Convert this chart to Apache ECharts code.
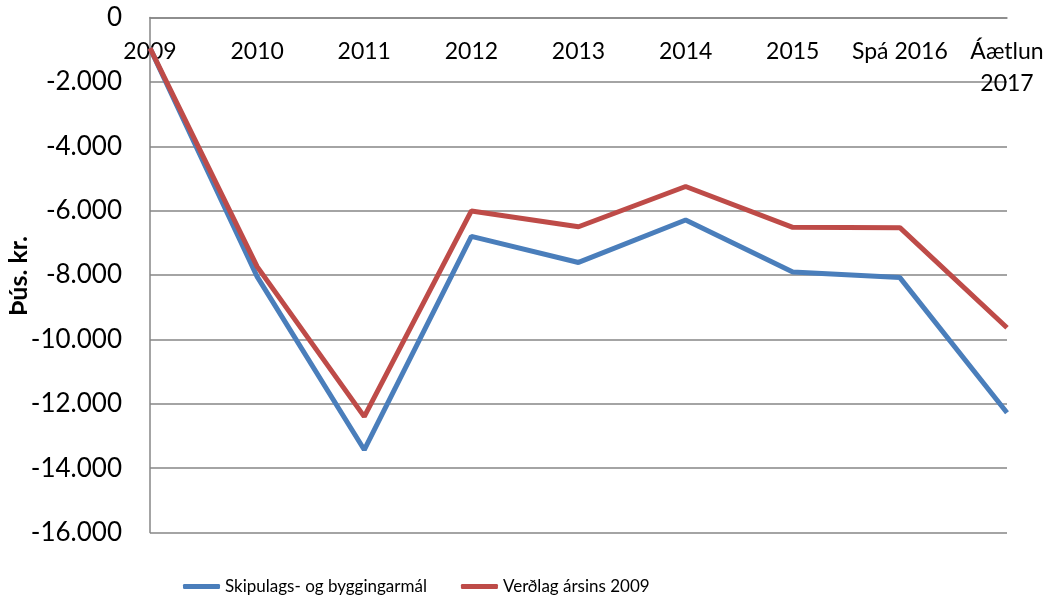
<!DOCTYPE html>
<html>
<head>
<meta charset="utf-8">
<script src="https://cdn.jsdelivr.net/npm/echarts@6/dist/echarts.min.js"></script>
<style>
html,body{margin:0;padding:0;background:#fff;}
#chart{width:1051px;height:602px;}
</style>
</head>
<body>
<div id="chart"></div>
<script>
const categories = ['2009', '2010', '2011', '2012', '2013', '2014', '2015', 'Spá 2016', 'Áætlun\n2017'];
const seriesNames = ['Skipulags- og byggingarmál', 'Verðlag ársins 2009'];
const skipulag = [-950, -8050, -13430, -6800, -7610, -6290, -7910, -8080, -12280];
const verdlag = [-950, -7740, -12400, -6010, -6500, -5250, -6520, -6530, -9640];
const yTicks = { min: -16000, max: 0, interval: 2000 };
const yName = 'Þús. kr.';

const FONT = 'Lato';
const chart = echarts.init(document.getElementById('chart'), null, { renderer: 'canvas' });
chart.setOption({
  animation: false,
  backgroundColor: '#ffffff',
  grid: { left: 150, right: 44, top: 17.5, bottom: 69.5, containLabel: false, outerBoundsMode: 'none' },
  graphic: [{
    type: 'text',
    x: 19, y: 276,
    rotation: Math.PI / 2,
    style: {
      text: yName, fontFamily: FONT, fontSize: 25, fontWeight: 'bold', fill: '#000',
      align: 'center', verticalAlign: 'middle'
    }
  }],
  legend: {
    left: 178, top: 573,
    itemWidth: 37, itemHeight: 5, itemGap: 34,
    icon: 'roundRect',
    textStyle: { fontFamily: FONT, fontSize: 17, color: '#000' },
    data: seriesNames
  },
  xAxis: {
    type: 'category',
    data: categories,
    position: 'top',
    boundaryGap: false,
    axisLine: { show: true, lineStyle: { color: '#868686', width: 1.5 } },
    axisTick: { show: false },
    axisLabel: {
      inside: true, margin: 18, interval: 0,
      fontFamily: FONT, fontSize: 23, color: '#000', lineHeight: 32
    },
    splitLine: { show: false }
  },
  yAxis: {
    type: 'value',
    min: yTicks.min, max: yTicks.max, interval: yTicks.interval,
    axisLine: { show: true, lineStyle: { color: '#868686', width: 1.5 } },
    axisTick: { show: false },
    axisLabel: {
      margin: 28, fontFamily: FONT, fontSize: 26, color: '#000',
      formatter: v => {
        if (v === 0) return '0';
        const s = Math.abs(v).toString().replace(/\B(?=(\d{3})+(?!\d))/g, '.');
        return (v < 0 ? '-' : '') + s;
      }
    },
    splitLine: { show: true, lineStyle: { color: '#868686', width: 1.5 } }
  },
  series: [
    {
      name: seriesNames[0], type: 'line', data: skipulag,
      symbol: 'none', lineStyle: { color: '#4A7EBB', width: 5 }, itemStyle: { color: '#4A7EBB' }
    },
    {
      name: seriesNames[1], type: 'line', data: verdlag,
      symbol: 'none', lineStyle: { color: '#BE4B48', width: 5 }, itemStyle: { color: '#BE4B48' }
    }
  ]
});
</script>
</body>
</html>
